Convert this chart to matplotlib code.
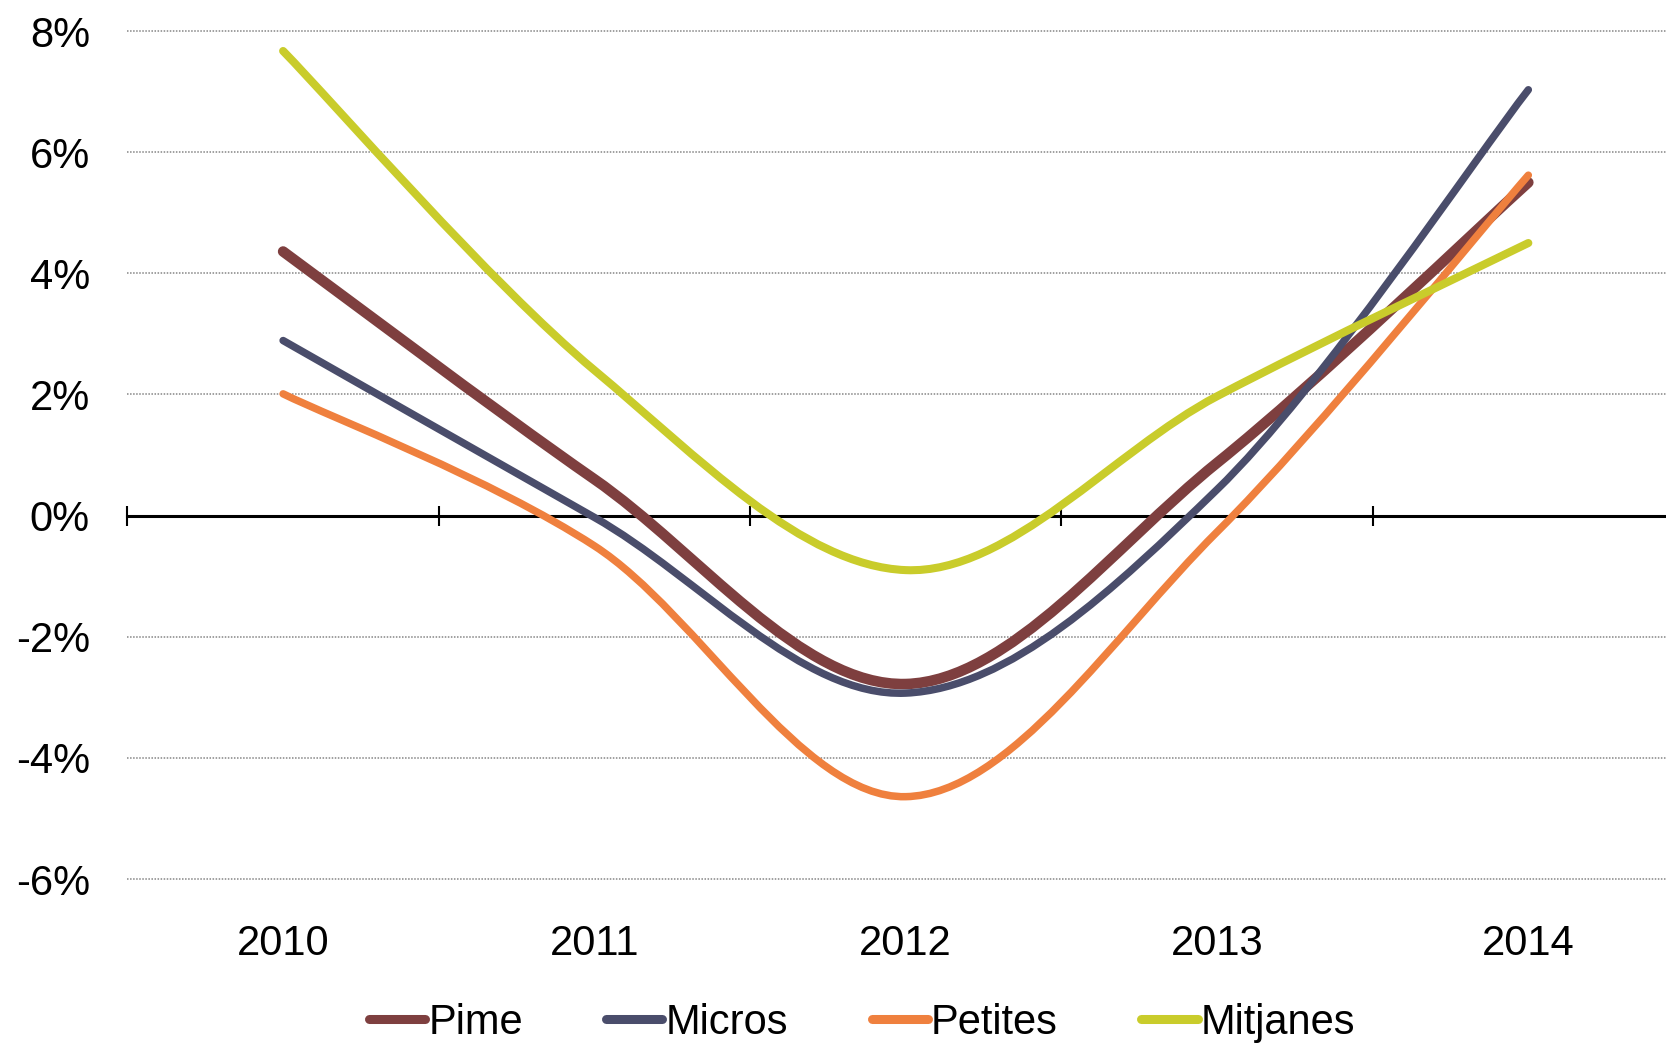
import matplotlib
matplotlib.use("Agg")
import matplotlib.pyplot as plt
from matplotlib.path import Path
from matplotlib.patches import PathPatch
from matplotlib.lines import Line2D
import numpy as np

plt.rcParams['font.family'] = ['Liberation Sans', 'DejaVu Sans']

years = ["2010", "2011", "2012", "2013", "2014"]
pime = [4.36, 0.6, -2.78, 0.87, 5.5]
micros = [2.89, -0.03, -2.93, 0.43, 7.03]
petites = [2.01, -0.5, -4.64, -0.27, 5.62]
mitjanes = [7.67, 2.4, -0.9, 1.97, 4.5]

series_names = ["Pime", "Micros", "Petites", "Mitjanes"]
series_values = [pime, micros, petites, mitjanes]
colors = ["#7e3f3f", "#4a4d6b", "#ef803e", "#c9cc2b"]
widths = [7.6, 5.4, 5.4, 5.8]

y_ticks = [-6, -4, -2, 0, 2, 4, 6, 8]
y_labels = ["-6%", "-4%", "-2%", "0%", "2%", "4%", "6%", "8%"]


def smooth_path(xs, ys):
    # Excel-style smoothed line: cubic bezier through the points
    pts = np.column_stack([xs, ys]).astype(float)
    n = len(pts)
    verts = [pts[0]]
    codes = [Path.MOVETO]
    for i in range(n - 1):
        p_prev = pts[max(i - 1, 0)]
        p0 = pts[i]
        p1 = pts[i + 1]
        p_next = pts[min(i + 2, n - 1)]
        c1 = p0 + (p1 - p_prev) / 6.0
        c2 = p1 - (p_next - p0) / 6.0
        verts += [c1, c2, p1]
        codes += [Path.CURVE4] * 3
    return Path(verts, codes)


fig = plt.figure(figsize=(16.66, 10.44), dpi=100)
ax = fig.add_axes([0.0765, 0.158, 0.9343, 0.8123])

x = np.arange(len(years))
for vals, c, lw in zip(series_values, colors, widths):
    patch = PathPatch(smooth_path(x, vals), facecolor="none", edgecolor=c,
                      lw=lw, capstyle="round", joinstyle="round", zorder=3)
    ax.add_patch(patch)

ax.set_xlim(-0.5, 4.5)
ax.set_ylim(-6, 8)

# grid
for t in y_ticks:
    if t != 0:
        ax.axhline(t, color="#858585", lw=1.1, ls=(0, (1, 1)), zorder=1,
                   clip_on=False)

ax.set_yticks(y_ticks, y_labels)
ax.tick_params(axis="y", length=0, pad=27, labelsize=30)

for side in ["left", "right", "top"]:
    ax.spines[side].set_visible(False)
ax.spines["bottom"].set_position(("data", 0))
ax.spines["bottom"].set_linewidth(2.2)
ax.spines["bottom"].set_zorder(2)

ax.set_xticks(np.arange(-0.5, 4.5, 1.0))
ax.set_xticklabels([])
ax.tick_params(axis="x", direction="inout", length=15, width=1.5)

for i, lab in enumerate(years):
    ax.text(i, -0.077, lab, transform=ax.get_xaxis_transform(),
            ha="center", va="center", fontsize=30)

handles = [Line2D([], [], color=c, lw=6.5, solid_capstyle="round")
           for c in colors]
fig.legend(handles, series_names, loc="center", ncol=4,
           bbox_to_anchor=(862 / 1666, 1 - 1023 / 1044),
           frameon=False, fontsize=30, handlelength=1.35,
           handletextpad=0.08, columnspacing=2.0, borderaxespad=0)

fig.savefig("out.png", dpi=100)
